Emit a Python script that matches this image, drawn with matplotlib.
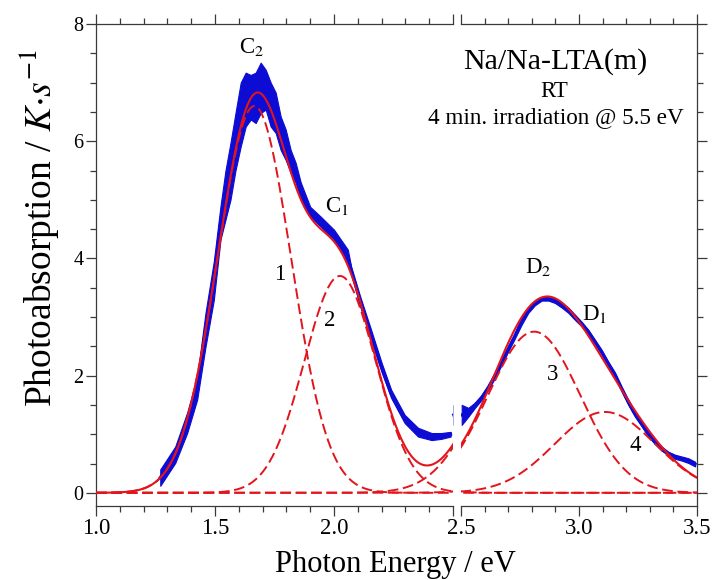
import numpy as np
import matplotlib
matplotlib.use("Agg")
import matplotlib.pyplot as plt
from matplotlib.ticker import MultipleLocator

plt.rcParams['font.family'] = ['Liberation Serif', 'DejaVu Serif']
plt.rcParams['mathtext.fontset'] = 'stix'

# measured photoabsorption (blue), envelope of the noisy trace
e_left = [1.27, 1.333, 1.383, 1.425, 1.46, 1.495, 1.523, 1.544, 1.565, 1.586,
          1.608, 1.629, 1.65, 1.671, 1.692, 1.713, 1.734, 1.755, 1.776, 1.797,
          1.818, 1.839, 1.86, 1.90, 1.945, 2.0, 2.058, 2.072, 2.11, 2.156,
          2.2, 2.24, 2.297, 2.353, 2.41, 2.45, 2.49]
lo_left = [0.12, 0.51, 1.02, 1.59, 2.49, 3.29, 4.32, 4.66, 5.00, 5.50,
           5.91, 6.25, 6.37, 6.31, 6.48, 6.54, 6.25, 6.14, 5.85, 5.68,
           5.46, 5.29, 5.00, 4.71, 4.54, 4.32, 3.92, 3.75, 3.18, 2.61,
           2.06, 1.62, 1.19, 0.96, 0.90, 0.92, 0.96]
hi_left = [0.40, 0.79, 1.37, 1.98, 3.07, 3.95, 4.89, 5.50, 5.97, 6.48,
           7.00, 7.17, 7.13, 7.17, 7.34, 7.22, 7.00, 6.83, 6.42, 6.20,
           5.85, 5.63, 5.30, 4.88, 4.71, 4.49, 4.15, 3.86, 3.35, 2.78,
           2.22, 1.76, 1.33, 1.11, 1.02, 1.02, 1.04]

e_right = [2.503, 2.531, 2.559, 2.588, 2.616, 2.644, 2.672, 2.70, 2.729, 2.757,
           2.785, 2.813, 2.842, 2.87, 2.898, 2.927, 2.955, 2.983, 3.011, 3.04,
           3.068, 3.096, 3.124, 3.153, 3.181, 3.209, 3.237, 3.266, 3.294, 3.322,
           3.35, 3.379, 3.407, 3.435, 3.463, 3.492]
lo_right = [1.16, 1.30, 1.45, 1.59, 1.76, 1.96, 2.18, 2.41, 2.64, 2.87,
            3.07, 3.20, 3.28, 3.28, 3.24, 3.16, 3.07, 2.95, 2.84, 2.70,
            2.54, 2.36, 2.16, 1.96, 1.73, 1.50, 1.30, 1.13, 0.96, 0.83,
            0.72, 0.64, 0.58, 0.55, 0.51, 0.45]
hi_right = [1.50, 1.45, 1.54, 1.67, 1.84, 2.05, 2.27, 2.50, 2.73, 2.99,
            3.16, 3.26, 3.33, 3.35, 3.31, 3.24, 3.16, 3.04, 2.92, 2.78,
            2.61, 2.44, 2.24, 2.05, 1.81, 1.59, 1.39, 1.22, 1.05, 0.90,
            0.79, 0.70, 0.65, 0.62, 0.59, 0.53]

# gaussian bands 1-4 of the fit: centre (eV), height, sigma (eV)
band_center = [1.665, 2.025, 2.81, 3.11]
band_height = [6.60, 3.70, 2.75, 1.38]
band_sigma = [0.155, 0.150, 0.195, 0.212]

blue = '#0c0cd4'
red = '#e3141c'

E = np.linspace(1.0, 3.5, 601)
bands = [h * np.exp(-(E - c) ** 2 / (2 * s ** 2))
         for c, h, s in zip(band_center, band_height, band_sigma)]
fit = np.sum(bands, axis=0)

fig = plt.figure(figsize=(7.12, 5.80), dpi=100)
ax1 = fig.add_axes([96 / 712, 74.3 / 580, 357 / 712, 481.7 / 580])
ax2 = fig.add_axes([461 / 712, 74.3 / 580, 236 / 712, 481.7 / 580])

mid_left = [(a + b) / 2 for a, b in zip(lo_left, hi_left)]
mid_right = [(a + b) / 2 for a, b in zip(lo_right, hi_right)]

for ax in (ax1, ax2):
    ax.fill_between(e_left, lo_left, hi_left, color=blue, lw=0.8,
                    joinstyle='round', zorder=2)
    ax.fill_between(e_right, lo_right, hi_right, color=blue, lw=0.8,
                    joinstyle='round', zorder=2)
    ax.plot(e_left, mid_left, color=blue, lw=2.2, solid_joinstyle='round', zorder=2)
    ax.plot(e_right, mid_right, color=blue, lw=2.2, solid_joinstyle='round', zorder=2)
    for b in bands:
        ax.plot(E, b, color=red, lw=1.4, ls=(0, (5.5, 2.4)), zorder=3)
    ax.plot(E, fit, color=red, lw=1.5, zorder=4)
    ax.set_ylim(-0.22, 8)
    ax.yaxis.set_major_locator(MultipleLocator(2))
    ax.yaxis.set_minor_locator(MultipleLocator(0.5))
    ax.xaxis.set_minor_locator(MultipleLocator(0.1))
    for sp in ax.spines.values():
        sp.set_color('#3a3a3a')
        sp.set_linewidth(0.9)
    ax.tick_params(which='both', direction='out', top=True, bottom=True,
                   color='#3a3a3a', width=0.9)
    ax.tick_params(which='major', length=7, pad=2)
    ax.tick_params(which='minor', length=4)
    ax.tick_params(axis='x', labelsize=16.5)
    ax.tick_params(axis='y', labelsize=14.5)

ax1.set_xlim(1.0, 2.5)
ax1.set_xticks([1.0, 1.5, 2.0, 2.5])
ax1.set_xticklabels(['1.0', '1.5', '2.0', ''])
ax1.spines['right'].set_visible(False)
ax1.tick_params(which='both', left=True, right=False)

ax2.set_xlim(2.5, 3.5)
ax2.set_xticks([2.5, 3.0, 3.5])
ax2.set_xticklabels(['2.5', '3.0', '3.5'])
ax2.spines['left'].set_visible(False)
ax2.tick_params(which='both', left=False, right=True, labelleft=False)

ax1.set_ylabel(r'Photoabsorption / $K{\cdot}s^{-1}$', fontsize=27, labelpad=8)
ax1.yaxis.label.set_y(0.577)
fig.text(395.6 / 712, 0.013, 'Photon Energy / eV', fontsize=22,
         ha='center', va='baseline')

# band labels
ax1.text(1.654, 7.50, r'C$_{\mathrm{2}}$', fontsize=16.5, ha='center', va='baseline')
ax1.text(2.013, 4.80, r'C$_{\mathrm{1}}$', fontsize=16.5, ha='center', va='baseline')
ax1.text(1.772, 3.635, '1', fontsize=16.5, ha='center', va='baseline')
ax1.text(1.98, 2.84, '2', fontsize=16.5, ha='center', va='baseline')
ax2.text(2.826, 3.75, r'D$_{\mathrm{2}}$', fontsize=16.5, ha='center', va='baseline')
ax2.text(3.068, 2.95, r'D$_{\mathrm{1}}$', fontsize=16.5, ha='center', va='baseline')
ax2.text(2.89, 1.93, '3', fontsize=16.5, ha='center', va='baseline')
ax2.text(3.24, 0.705, '4', fontsize=16.5, ha='center', va='baseline')

fig.text(555.5 / 712, 0.8822, 'Na/Na-LTA(m)', fontsize=21.5, ha='center', va='baseline')
fig.text(554 / 712, 0.8333, 'RT', fontsize=16.5, ha='center', va='baseline')
fig.text(555.5 / 712, 0.7874, '4 min. irradiation @ 5.5 eV', fontsize=16.7,
         ha='center', va='baseline')

fig.savefig('out.png', dpi=100)
